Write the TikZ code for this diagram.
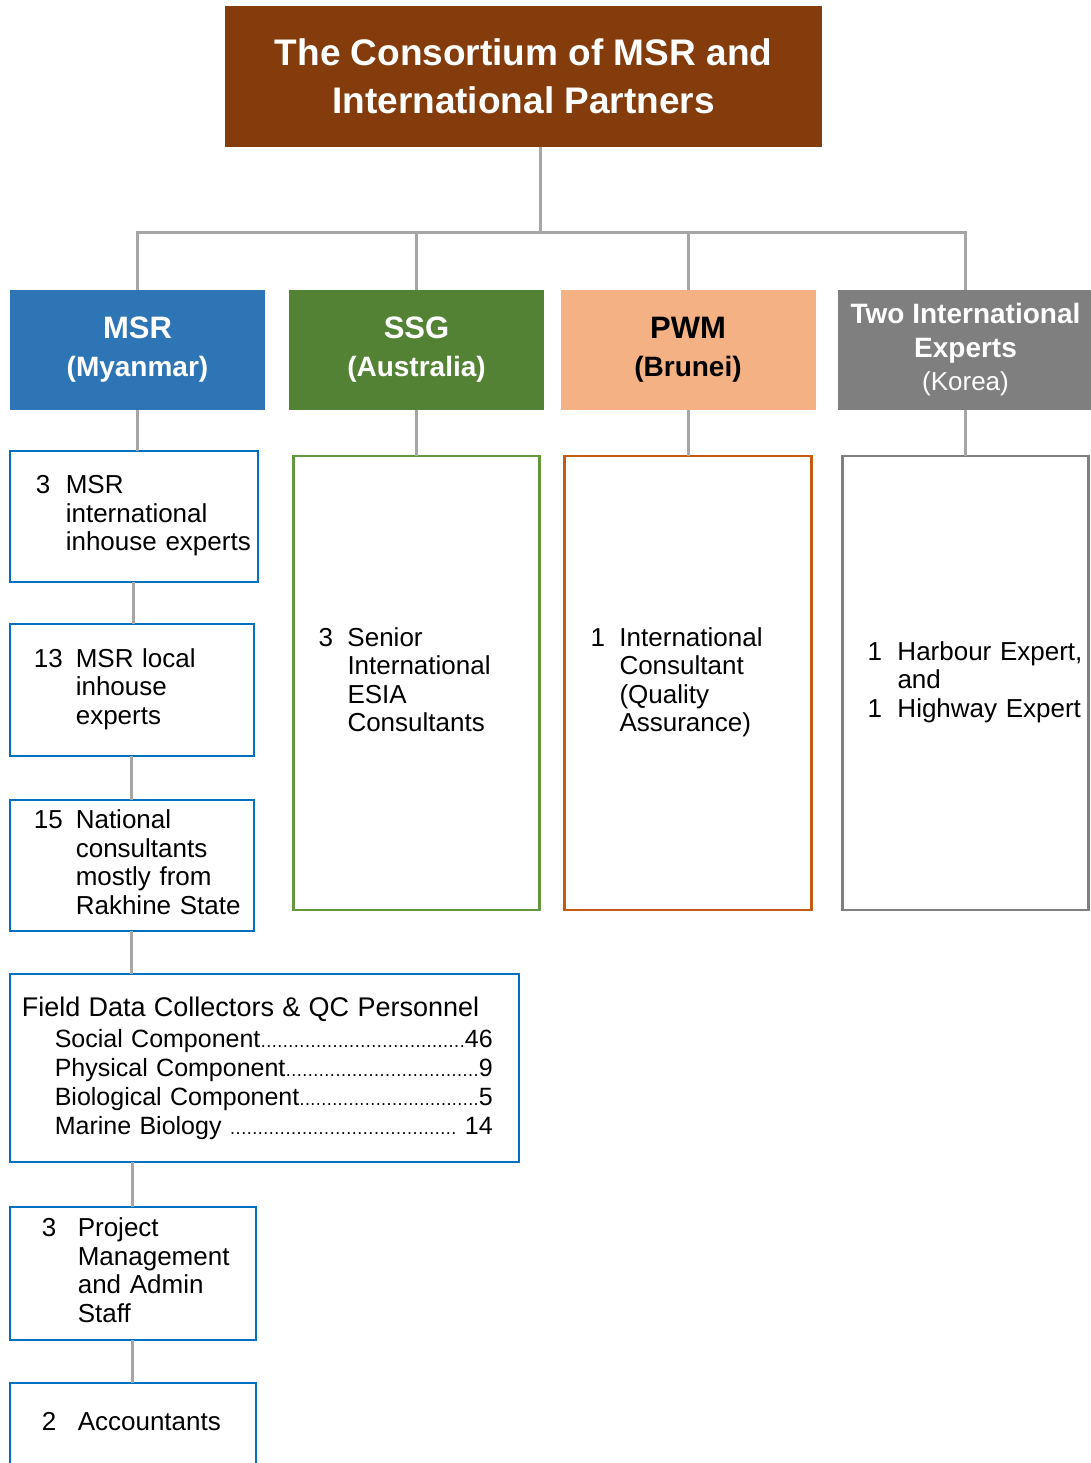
\documentclass[tikz,border=0pt]{standalone}
\usepackage{fontspec}
\setmainfont{Liberation Sans}
\usetikzlibrary{positioning}

\definecolor{titlebrown}{HTML}{843C0C}
\definecolor{msrblue}{HTML}{2E75B6}
\definecolor{ssggreen}{HTML}{548235}
\definecolor{pwmpeach}{HTML}{F4B183}
\definecolor{korgray}{HTML}{7F7F7F}
\definecolor{boxblue}{HTML}{0070C0}
\definecolor{boxgreen}{HTML}{62973E}
\definecolor{boxorange}{HTML}{C55A11}
\definecolor{linkgray}{HTML}{A6A6A6}

% number column + description lines
\newcommand{\staff}[2]{\begin{tabular}{@{}p{#1}@{}l@{}}#2\end{tabular}}
\newcommand{\dotlead}{\xleaders\hbox to 5.4pt{\hss\fontsize{18}{18}\selectfont.\hss}\hfill}

\begin{document}
\begin{tikzpicture}[x=1pt, y=-1pt,
    link/.style={draw=linkgray, line width=3pt},
    head/.style={minimum width=255pt, minimum height=120pt, inner sep=0pt, align=center, text=white, font=\bfseries\fontsize{28}{38}\selectfont},
    staffbox/.style={draw, line width=2.5pt, outer sep=0pt, fill=white, align=left, inner ysep=0pt, font=\fontsize{26}{28.5}\selectfont}]
    \useasboundingbox (0,0) rectangle (1090,1463);

    % Top of the chart
    \node[fill=titlebrown, minimum width=597pt, minimum height=141pt, align=center, text=white, font=\bfseries\fontsize{37}{48}\selectfont] (title) at (523.5,76.5) {The Consortium of MSR and\\International Partners};

    % Partners
    \node[head, fill=msrblue] (msr) at (137.5,350) {{\fontsize{31}{38}\selectfont MSR}\\(Myanmar)};
    \node[head, fill=ssggreen] (ssg) at (416.5,350) {{\fontsize{31}{38}\selectfont SSG}\\(Australia)};
    \node[head, fill=pwmpeach, text=black] (pwm) at (688,350) {{\fontsize{31}{38}\selectfont PWM}\\(Brunei)};
    \node[head, fill=korgray, font=\bfseries\fontsize{28}{33.5}\selectfont] (kor) at (965.5,350) {Two International\\Experts\\{\mdseries\fontsize{26}{33.5}\selectfont(Korea)}};

    % MSR staff column
    \node[staffbox, draw=boxblue, text width=196pt, inner xsep=26pt, minimum height=131pt, below=41pt of msr.south west, anchor=north west] (intl) {\staff{30pt}{3 & MSR\\ & international\\ & inhouse experts}};
    \node[staffbox, draw=boxblue, text width=196pt, inner xsep=24pt, minimum height=132pt, below=42pt of intl.south west, anchor=north west] (local) {\staff{42pt}{13 & MSR local\\ & inhouse\\ & experts}};
    \node[staffbox, draw=boxblue, text width=196pt, inner xsep=24pt, minimum height=131pt, below=44pt of local.south west, anchor=north west] (natl) {\staff{42pt}{15 & National\\ & consultants\\ & mostly from\\ & Rakhine State}};
    \node[staffbox, draw=boxblue, text width=485pt, inner xsep=12pt, minimum height=188pt, below=43pt of natl.south west, anchor=north west, font=\fontsize{25}{29}\selectfont] (field) {{\fontsize{27}{31}\selectfont Field Data Collectors \& QC Personnel}\\[2pt]
        \hspace*{33pt}\makebox[438pt][l]{Social Component\dotlead 46}\\
        \hspace*{33pt}\makebox[438pt][l]{Physical Component\dotlead 9}\\
        \hspace*{33pt}\makebox[438pt][l]{Biological Component\dotlead 5}\\
        \hspace*{33pt}\makebox[438pt][l]{Marine Biology \dotlead\ 14}};
    \node[staffbox, draw=boxblue, text width=182pt, inner xsep=32pt, minimum height=133pt, below=45pt of field.south west, anchor=north west] (admin) {\staff{36pt}{3 & Project\\ & Management\\ & and Admin\\ & Staff}};
    \node[staffbox, draw=boxblue, text width=182pt, inner xsep=32pt, minimum height=84pt, below=43pt of admin.south west, anchor=north west] (acct) {\staff{36pt}{2 & Accountants}};

    % Other partners' staff
    \node[staffbox, draw=boxgreen, text width=196pt, inner xsep=25pt, minimum height=454pt, below=46pt of ssg] (ssgbox) {\staff{29pt}{3 & Senior\\ & International\\ & ESIA\\ & Consultants}};
    \node[staffbox, draw=boxorange, text width=195pt, inner xsep=26pt, minimum height=454pt, below=46pt of pwm] (pwmbox) {\staff{29pt}{1 & International\\ & Consultant\\ & (Quality\\ & Assurance)}};
    \node[staffbox, draw=korgray, text width=196pt, inner xsep=25pt, minimum height=454pt, below=46pt of kor] (korbox) {\staff{30pt}{1 & Harbour Expert,\\ & and\\ 1 & Highway Expert}};

    % Connectors
    \foreach \h in {msr,ssg,pwm,kor}
        \draw[link] ([xshift=16.5pt]title.south) -- ++(0,85) -| (\h.north);
    \draw[link] (msr.south) -- (msr.south |- intl.north);
    \draw[link] (ssg) -- (ssgbox);
    \draw[link] (pwm) -- (pwmbox);
    \draw[link] (kor) -- (korbox);
    \draw[link] (intl.south) -- (intl.south |- local.north);
    \draw[link] (local.south) -- (local.south |- natl.north);
    \draw[link] (natl.south) -- (natl.south |- field.north);
    \draw[link] (admin.north |- field.south) -- (admin.north);
    \draw[link] (admin.south) -- (admin.south |- acct.north);
\end{tikzpicture}
\end{document}
